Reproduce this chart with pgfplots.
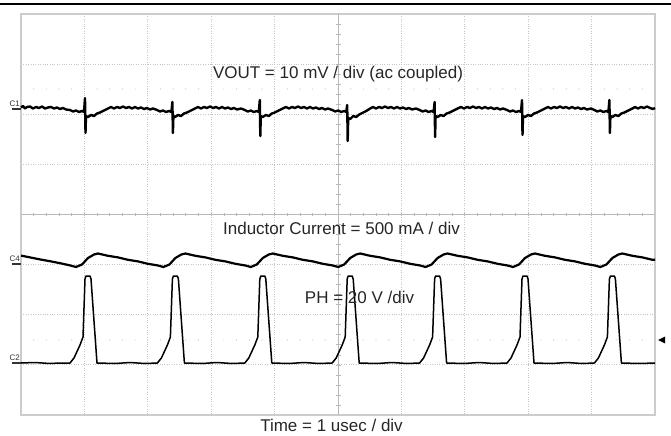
\documentclass[border=0pt]{standalone}
\usepackage{pgfplots}
\pgfplotsset{compat=1.18}
\usepackage{fontspec}
\setmainfont{Liberation Sans}
\begin{document}
\begin{tikzpicture}
\begin{axis}[
  scale only axis, width=634bp, height=401bp,
  xmin=21, xmax=655, ymin=14, ymax=415, y dir=reverse,
  xtick={84.4,147.8,211.2,274.6,338,401.4,464.8,528.2,591.6},
  ytick={64.1,114.3,164.4,214.5,264.6,314.8,364.9},
  xticklabels={}, yticklabels={},
  major tick length=0pt,
  grid=major, grid style={gray!45, dotted, line width=0.9bp},
  axis line style={gray!40, line width=1.2bp},
  clip=false,
]
% centre cross-hair
\draw[gray!55, line width=0.8bp] (axis cs:21,214.5) -- (axis cs:655,214.5);
\draw[gray!55, line width=0.8bp] (axis cs:338,14) -- (axis cs:338,415);
\pgfplotsinvokeforeach{1,...,49}{
  \draw[gray!55, line width=0.7bp] (axis cs:{21+12.68*#1},212.8) -- (axis cs:{21+12.68*#1},216.2);
  \fill[gray!50] (axis cs:{21+12.68*#1},89) circle[radius=0.6bp];
  \fill[gray!50] (axis cs:{21+12.68*#1},340) circle[radius=0.6bp];
}
\pgfplotsinvokeforeach{1,...,39}{
  \draw[gray!55, line width=0.7bp] (axis cs:335.5,{14+10.025*#1}) -- (axis cs:340.5,{14+10.025*#1});
}

% C1 : VOUT (ac coupled)
\addplot[black, line width=2.4bp, line join=round] coordinates {
(21,107.5)(23,106)(25,108.5)(27,107)(30,106.5)(33,108.5)(36,107)(39,108)(42,106.5)(45,108.5)(48,107.5)(51,107)(54,108.5)(57,107.5)(60,109)(63,108)(66,109.5)
(70,110)(73,111.5)(76,110.5)(79,112)(82,111)(84,112)(85,98)(85.5,133)(86,116)(88,117)(91,115)(94,116)(97,113.5)(100,112.5)(104,110.5)(108,108.5)
(111,107)(114,108.5)(117,107)(120,108)(123,106.5)(126,108)(129,107)(132,108.5)(135,107)(138,108.5)(141,107.5)(144,109)(147,108)(150,109.5)(153,108.5)
(157,110)(160,111.5)(163,110.5)(166,112)(169,111)(171.4,112)(172.4,102)(172.9,133)(173.4,116)(175,117)(178,115)(181,116)(184,113.5)(187,112.5)(191,110.5)(195,108.5)
(198,107)(201,108.5)(204,107)(207,108)(210,106.5)(213,108)(216,107)(219,108.5)(222,107)(225,108.5)(228,107.5)(231,109)(234,108)(237,109.5)(241,108.5)
(244.8,110)(247.8,111.5)(250.8,110.5)(253.8,112)(256.8,111)(258.8,112)(259.8,100)(260.3,136)(260.8,116)(262.8,117)(265.8,115)(268.8,116)(271.8,113.5)(274.8,112.5)(278.8,110.5)(282.8,108.5)
(286,107)(289,108.5)(292,107)(295,108)(298,106.5)(301,108)(304,107)(307,108.5)(310,107)(313,108.5)(316,107.5)(319,109)(322,108)(325,109.5)(328,108.5)
(332.2,110)(335.2,111.5)(338.2,110.5)(341.2,112)(344.2,111)(346.2,112)(347.2,105)(347.7,141)(348.2,118)(350.2,119)(353.2,116)(356.2,117)(359.2,114.5)(362.2,113)(366.2,111)(370.2,108.5)
(373,107)(376,108.5)(379,107)(382,108)(385,106.5)(388,108)(391,107)(394,108.5)(397,107)(400,108.5)(403,107.5)(406,109)(409,108)(412,109.5)(416,108.5)
(419.6,110)(422.6,111.5)(425.6,110.5)(428.6,112)(431.6,111)(433.6,112)(434.6,102)(435.1,137)(435.6,116)(437.6,117)(440.6,115)(443.6,116)(446.6,113.5)(449.6,112.5)(453.6,110.5)(457.6,108.5)
(461,107)(464,108.5)(467,107)(470,108)(473,106.5)(476,108)(479,107)(482,108.5)(485,107)(488,108.5)(491,107.5)(494,109)(497,108)(500,109.5)(503,108.5)
(507,110)(510,111.5)(513,110.5)(516,112)(519,111)(521,112)(522,100)(522.5,135)(523,116)(525,117)(528,115)(531,116)(534,113.5)(537,112.5)(541,110.5)(545,108.5)
(548,107)(551,108.5)(554,107)(557,108)(560,106.5)(563,108)(566,107)(569,108.5)(572,107)(575,108.5)(578,107.5)(581,109)(584,108)(587,109.5)(591,108.5)
(594.4,110)(597.4,111.5)(600.4,110.5)(603.4,112)(606.4,111)(608.4,112)(609.4,100)(609.9,133)(610.4,116)(612.4,117)(615.4,115)(618.4,116)(621.4,113.5)(624.4,112.5)(628.4,110.5)(632.4,108.5)
(635,107)(638,108.5)(641,107)(644,108)(647,106.5)(650,108)(653,109)(655,108)
};

% C4 : inductor current
\addplot[black, line width=2.2bp, line join=round] coordinates {
(21,255.6)(31,257.6)(41,259.6)(51,261.4)(61,263.4)(70,265.4)
(76,267)(82,264.5)(88,258)(94,254.5)(98,253.5)(108,255.8)(118,257.4)(128,259.8)(138,261.4)(148,263.8)(158,265.5)
(163.4,267)(169.4,264.5)(175.4,258)(181.4,254.5)(185.4,253.5)(195.4,255.8)(205.4,257.4)(215.4,259.8)(225.4,261.4)(235.4,263.8)(245.4,265.5)
(250.8,267)(256.8,264.5)(262.8,258)(268.8,254.5)(272.8,253.5)(282.8,255.8)(292.8,257.4)(302.8,259.8)(312.8,261.4)(322.8,263.8)(332.8,265.5)
(338.2,267)(344.2,264.5)(350.2,258)(356.2,254.5)(360.2,253.5)(370.2,255.8)(380.2,257.4)(390.2,259.8)(400.2,261.4)(410.2,263.8)(420.2,265.5)
(425.6,267)(431.6,264.5)(437.6,258)(443.6,254.5)(447.6,253.5)(457.6,255.8)(467.6,257.4)(477.6,259.8)(487.6,261.4)(497.6,263.8)(507.6,265.5)
(513,267)(519,264.5)(525,258)(531,254.5)(535,253.5)(545,255.8)(555,257.4)(565,259.8)(575,261.4)(585,263.8)(595,265.5)
(600.4,267)(606.4,264.5)(612.4,258)(618.4,254.5)(622.4,253.5)(632.4,255.8)(642.4,257.4)(652.4,259.8)(655,259.8)
};

% C2 : PH node
\addplot[black, line width=1.5bp, line join=round] coordinates {
(21,363)(35,362.5)(50,363.5)(60,363)
(70,363)(74,358)(80,345)(83,337)(85,279)(86,276)(90,276)(91,279)(97,363)
(115,363.5)(130,362.5)(145,363.5)
(157.4,363)(161.4,358)(167.4,345)(170.4,337)(172.4,279)(173.4,276)(177.4,276)(178.4,279)(184.4,363)
(202,363.5)(217,362.5)(232,363.5)
(244.8,363)(248.8,358)(254.8,345)(257.8,337)(259.8,279)(260.8,276)(264.8,276)(265.8,279)(271.8,363)
(289,363.5)(304,362.5)(319,363.5)
(332.2,363)(336.2,358)(342.2,345)(345.2,337)(347.2,279)(348.2,276)(352.2,276)(353.2,279)(359.2,363)
(377,363.5)(392,362.5)(407,363.5)
(419.6,363)(423.6,358)(429.6,345)(432.6,337)(434.6,279)(435.6,276)(439.6,276)(440.6,279)(446.6,363)
(464,363.5)(479,362.5)(494,363.5)
(507,363)(511,358)(517,345)(520,337)(522,279)(523,276)(527,276)(528,279)(534,363)
(552,363.5)(567,362.5)(582,363.5)
(594.4,363)(598.4,358)(604.4,345)(607.4,337)(609.4,279)(610.4,276)(614.4,276)(615.4,279)(621.4,363)
(639,363.5)(655,363)
};

% channel markers
\node[font=\fontsize{8bp}{9bp}\selectfont, text=black!80, anchor=base west, inner sep=0pt] at (axis cs:9.5,106) {C1};
\draw[black!80, line width=1.2bp] (axis cs:12,109) -- (axis cs:21,109);
\node[font=\fontsize{8bp}{9bp}\selectfont, text=black!80, anchor=base west, inner sep=0pt] at (axis cs:9.5,261) {C4};
\draw[black!80, line width=1.2bp] (axis cs:12,264) -- (axis cs:21,264);
\node[font=\fontsize{8bp}{9bp}\selectfont, text=black!80, anchor=base west, inner sep=0pt] at (axis cs:9.5,360) {C2};
\draw[black!80, line width=1.2bp] (axis cs:12,363) -- (axis cs:21,363);
\fill[black] (axis cs:658,340) -- (axis cs:665,336.5) -- (axis cs:665,343.5) -- cycle;

% annotations
\node[font=\fontsize{17bp}{20bp}\selectfont, text=black!85, anchor=base, inner sep=0pt] at (axis cs:338,79) {VOUT = 10 mV / div (ac coupled)};
\node[font=\fontsize{17bp}{20bp}\selectfont, text=black!85, anchor=base, inner sep=0pt] at (axis cs:341.5,234) {Inductor Current = 500 mA / div};
\node[font=\fontsize{17bp}{20bp}\selectfont, text=black!85, anchor=base, inner sep=0pt] at (axis cs:359.5,303) {PH = 20 V /div};
\node[font=\fontsize{17bp}{20bp}\selectfont, text=black!85, anchor=base, inner sep=0pt] at (axis cs:331.5,431) {Time = 1 usec / div};

% top rule
\draw[black, line width=2bp] (axis cs:0,4) -- (axis cs:671,4);

\coordinate (BL) at (axis cs:0,436);
\coordinate (TR) at (axis cs:671,0);
\end{axis}
\pgfresetboundingbox
\path[use as bounding box] (BL) rectangle (TR);
\end{tikzpicture}
\end{document}
